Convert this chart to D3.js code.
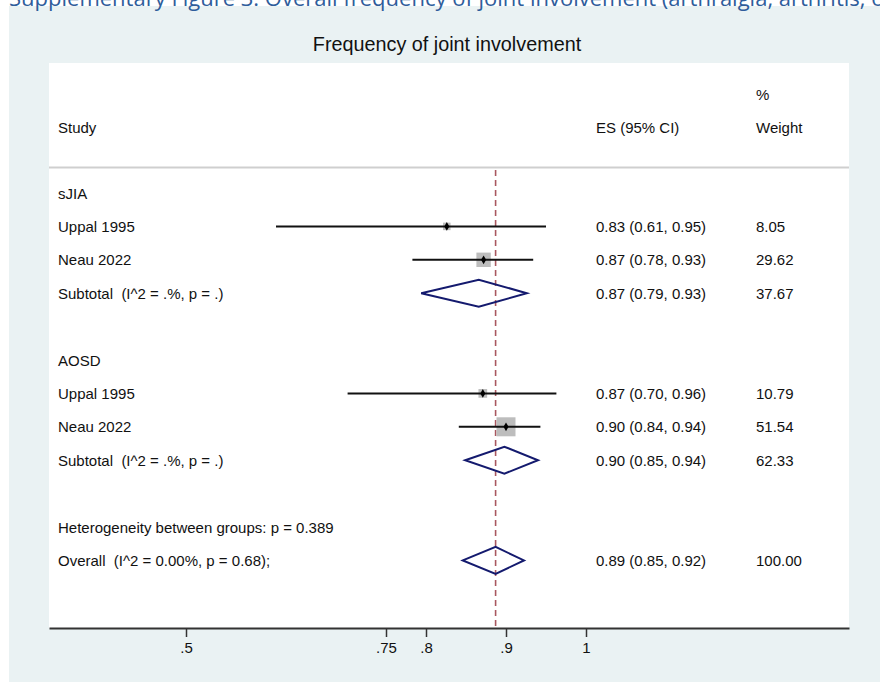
<!DOCTYPE html>
<html>
<head>
<meta charset="utf-8">
<script src="https://cdn.jsdelivr.net/npm/d3@7"></script>
<style>
  body { margin: 0; background: #fff; }
  svg text { font-family: "Liberation Sans", Arial, sans-serif; white-space: pre; }
</style>
</head>
<body>
<svg id="chart" width="880" height="682"></svg>
<script>
// row labels, top to bottom (blank rows are spacers)
const rowLabels = [
  "sJIA", "Uppal 1995", "Neau 2022", "Subtotal  (I^2 = .%, p = .)", "",
  "AOSD", "Uppal 1995", "Neau 2022", "Subtotal  (I^2 = .%, p = .)", "",
  "Heterogeneity between groups: p = 0.389", "Overall  (I^2 = 0.00%, p = 0.68);"
];

// individual studies
const studyRows   = [1, 2, 6, 7];
const studyEs     = [0.826, 0.872, 0.871, 0.900];
const studyLo     = [0.6125, 0.783, 0.702, 0.841];
const studyHi     = [0.950, 0.934, 0.963, 0.943];
const studyWeight = [8.05, 29.62, 10.79, 51.54];

// pooled estimates (subtotals + overall)
const pooledRows = [3, 8, 11];
const pooledEs   = [0.866, 0.898, 0.887];
const pooledLo   = [0.794, 0.849, 0.846];
const pooledHi   = [0.926, 0.940, 0.9225];

// right hand text columns
const textRows   = [1, 2, 3, 6, 7, 8, 11];
const esLabels   = ["0.83 (0.61, 0.95)", "0.87 (0.78, 0.93)", "0.87 (0.79, 0.93)",
                    "0.87 (0.70, 0.96)", "0.90 (0.84, 0.94)", "0.90 (0.85, 0.94)",
                    "0.89 (0.85, 0.92)"];
const weightLabels = ["8.05", "29.62", "37.67", "10.79", "51.54", "62.33", "100.00"];

const tickValues = [0.5, 0.75, 0.8, 0.9, 1];
const tickLabels = [".5", ".75", ".8", ".9", "1"];

const svg = d3.select("#chart");

// page background + caption (cut off at the top edge, as in the source)
svg.append("rect").attr("x", 9).attr("y", 6).attr("width", 871).attr("height", 676)
  .attr("fill", "#eaf2f3");
svg.append("text").attr("x", 9).attr("y", 6)
  .style("font-family", "'Open Sans', sans-serif").attr("font-size", 22)
  .attr("fill", "#2f5d9b")
  .text("Supplementary Figure 3: Overall frequency of joint involvement (arthralgia, arthritis, or both)");

// plot region
const pLeft = 49, pRight = 849, pTop = 63, axisY = 628;
svg.append("rect").attr("x", pLeft).attr("y", pTop)
  .attr("width", pRight - pLeft).attr("height", axisY - pTop).attr("fill", "#fff");

svg.append("text").attr("x", 447).attr("y", 51).attr("text-anchor", "middle")
  .attr("font-size", 19.8).attr("fill", "#111").text("Frequency of joint involvement");

const x = d3.scaleLinear().domain([0.32875, 1.32875]).range([pLeft, pRight]);
const y = d3.scaleLinear().domain([0, 11]).range([193, 560.4]);
const sq = d3.scaleSqrt().domain([0, 51.54]).range([0, 19]);

// header
const hdr = svg.append("g").attr("font-size", 15).attr("fill", "#111");
hdr.append("text").attr("x", 58).attr("y", 133).text("Study");
hdr.append("text").attr("x", 596).attr("y", 133).text("ES (95% CI)");
hdr.append("text").attr("x", 756).attr("y", 100).text("%");
hdr.append("text").attr("x", 756).attr("y", 133).text("Weight");

svg.append("line").attr("x1", pLeft).attr("x2", pRight)
  .attr("y1", 167.5).attr("y2", 167.5)
  .attr("stroke", "#cfcfcf").attr("stroke-width", 2);

// row labels
svg.append("g").attr("font-size", 15).attr("fill", "#111")
  .selectAll("text").data(rowLabels).enter().append("text")
  .attr("x", 58).attr("y", (d, i) => y(i) + 5.5).text(d => d);

// ES and weight columns
svg.append("g").attr("font-size", 15).attr("fill", "#111")
  .selectAll("text").data(esLabels).enter().append("text")
  .attr("x", 596).attr("y", (d, i) => y(textRows[i]) + 5.5).text(d => d);
svg.append("g").attr("font-size", 15).attr("fill", "#111")
  .selectAll("text").data(weightLabels).enter().append("text")
  .attr("x", 756).attr("y", (d, i) => y(textRows[i]) + 5.5).text(d => d);

// overall reference line
svg.append("line")
  .attr("x1", x(pooledEs[2])).attr("x2", x(pooledEs[2]))
  .attr("y1", 170).attr("y2", axisY)
  .attr("stroke", "#a9575f").attr("stroke-width", 1.6)
  .attr("stroke-dasharray", "6,4");

// study markers
const studies = studyRows.map((r, i) => ({ row: r, es: studyEs[i], lo: studyLo[i], hi: studyHi[i], w: studyWeight[i] }));
const sg = svg.append("g").selectAll("g").data(studies).enter().append("g");
sg.append("rect")
  .attr("x", d => x(d.es) - sq(d.w) / 2).attr("y", d => y(d.row) - sq(d.w) / 2)
  .attr("width", d => sq(d.w)).attr("height", d => sq(d.w))
  .attr("fill", "#bdbdbd");
sg.append("line")
  .attr("x1", d => x(d.lo)).attr("x2", d => x(d.hi))
  .attr("y1", d => y(d.row)).attr("y2", d => y(d.row))
  .attr("stroke", "#111").attr("stroke-width", 2);
sg.append("path")
  .attr("d", d3.symbol().type(d3.symbolDiamond).size(22))
  .attr("transform", d => `translate(${x(d.es)},${y(d.row)})`)
  .attr("fill", "#000");

// pooled diamonds
const pooled = pooledRows.map((r, i) => ({ row: r, es: pooledEs[i], lo: pooledLo[i], hi: pooledHi[i] }));
svg.append("g").selectAll("path").data(pooled).enter().append("path")
  .attr("d", d => {
    const cy = y(d.row), h = 13.5;
    return `M${x(d.lo)},${cy}L${x(d.es)},${cy - h}L${x(d.hi)},${cy}L${x(d.es)},${cy + h}Z`;
  })
  .attr("fill", "none").attr("stroke", "#141a6e").attr("stroke-width", 2);

// x axis
const axis = d3.axisBottom(x).tickValues(tickValues)
  .tickFormat((d, i) => tickLabels[i]).tickSize(9).tickSizeOuter(0).tickPadding(5);
const ax = svg.append("g").attr("transform", `translate(0,${axisY})`).call(axis);
ax.select(".domain").attr("stroke", "#333").attr("stroke-width", 2);
ax.selectAll(".tick line").attr("stroke", "#333").attr("stroke-width", 1.5);
ax.selectAll(".tick text").attr("font-size", 15).attr("fill", "#111")
  .style("font-family", "'Liberation Sans', Arial, sans-serif");
</script>
</body>
</html>
